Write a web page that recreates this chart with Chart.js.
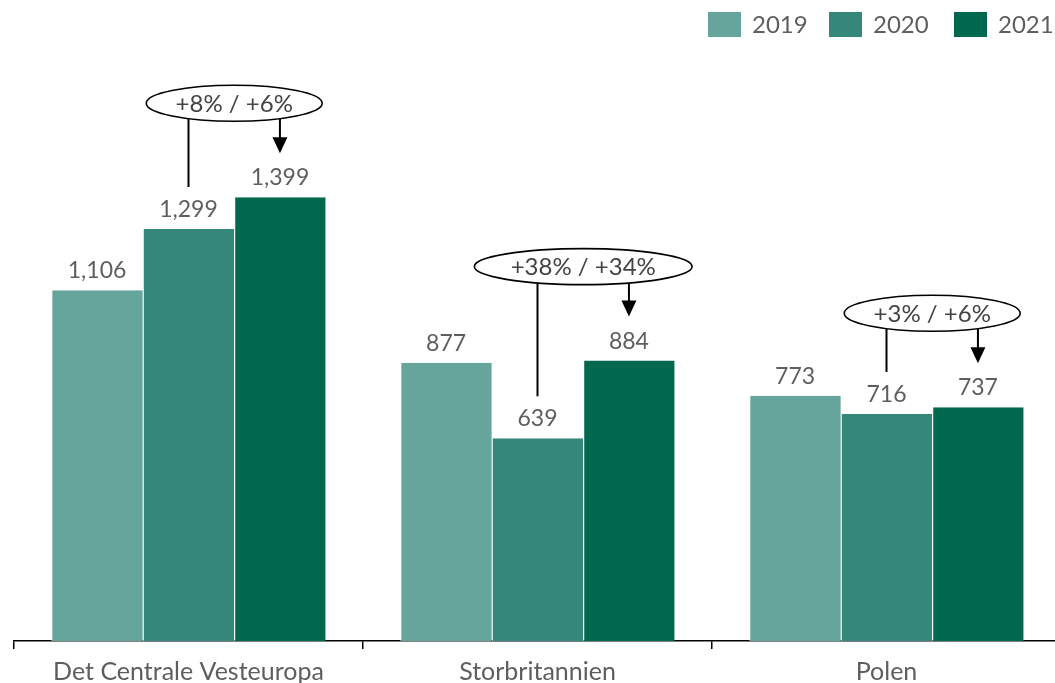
<!DOCTYPE html>
<html>
<head>
<meta charset="utf-8">
<script src="https://cdn.jsdelivr.net/npm/chart.js@4"></script>
<style>
  html, body { margin: 0; padding: 0; background: #fff; overflow: hidden; }
  #wrap { width: 1055px; height: 683px; overflow: hidden; }
  canvas { display: block; }
</style>
</head>
<body>
<div id="wrap"><canvas id="c" width="1061" height="683"></canvas></div>
<script>
const categories = ['Det Centrale Vesteuropa', 'Storbritannien', 'Polen'];
const years = ['2019', '2020', '2021'];
const values2019 = [1106, 877, 773];
const values2020 = [1299, 639, 716];
const values2021 = [1399, 884, 737];
const changeLabels = ['+8% / +6%', '+38% / +34%', '+3% / +6%'];
const colors = ['#66a59b', '#35877a', '#00684f'];

const FONT = 'Lato, "Open Sans", sans-serif';
const TEXT = '#5e5e5e';

function fmt(v) { return v.toLocaleString('en-US'); }

const overlay = {
  id: 'overlay',
  afterDatasetsDraw(chart) {
    const ctx = chart.ctx;
    const y = chart.scales.y;
    ctx.save();
    // data labels
    ctx.font = '23px ' + FONT;
    ctx.fillStyle = TEXT;
    ctx.textAlign = 'center';
    ctx.textBaseline = 'bottom';
    chart.data.datasets.forEach((ds, di) => {
      const meta = chart.getDatasetMeta(di);
      meta.data.forEach((bar, i) => {
        ctx.fillText(fmt(ds.data[i]), bar.x, bar.y - 8);
      });
    });
    // annotations
    const m20 = chart.getDatasetMeta(1).data;
    const m21 = chart.getDatasetMeta(2).data;
    categories.forEach((c, i) => {
      const x1 = m20[i].x, x2 = m21[i].x;
      const top20 = y.getPixelForValue(values2020[i]);
      const top21 = y.getPixelForValue(values2021[i]);
      const cx = (x1 + x2) / 2;
      const cy = top21 - 94;
      ctx.font = '24px ' + FONT;
      const tw = ctx.measureText(changeLabels[i]).width;
      const rx = tw * 0.75;
      const ry = 18;
      ctx.strokeStyle = '#000';
      ctx.fillStyle = '#000';
      ctx.lineWidth = 2;
      // left line
      ctx.beginPath();
      ctx.moveTo(x1, cy);
      ctx.lineTo(x1, top20 - 42);
      ctx.stroke();
      // arrow
      const tip = top21 - 44;
      ctx.beginPath();
      ctx.moveTo(x2, cy);
      ctx.lineTo(x2, tip - 14);
      ctx.stroke();
      ctx.beginPath();
      ctx.moveTo(x2 - 7.5, tip - 16);
      ctx.lineTo(x2 + 7.5, tip - 16);
      ctx.lineTo(x2, tip);
      ctx.closePath();
      ctx.fill();
      // ellipse
      ctx.beginPath();
      ctx.ellipse(cx, cy, rx, ry, 0, 0, Math.PI * 2);
      ctx.fillStyle = '#fff';
      ctx.fill();
      ctx.lineWidth = 1.6;
      ctx.stroke();
      ctx.fillStyle = '#444';
      ctx.textAlign = 'center';
      ctx.textBaseline = 'middle';
      ctx.fillText(changeLabels[i], cx, cy + 1);
    });
    // legend
    const legendX = [708, 829, 954];
    ctx.font = '24px ' + FONT;
    ctx.textAlign = 'left';
    ctx.textBaseline = 'middle';
    years.forEach((yr, i) => {
      ctx.fillStyle = colors[i];
      ctx.fillRect(legendX[i], 12, 33, 25);
      ctx.fillStyle = TEXT;
      ctx.fillText(yr, legendX[i] + 44, 25);
    });
    ctx.restore();
  }
};

new Chart(document.getElementById('c'), {
  type: 'bar',
  data: {
    labels: categories,
    datasets: [
      { label: years[0], data: values2019, backgroundColor: colors[0] },
      { label: years[1], data: values2020, backgroundColor: colors[1] },
      { label: years[2], data: values2021, backgroundColor: colors[2] }
    ]
  },
  options: {
    responsive: false,
    devicePixelRatio: 1,
    animation: false,
    layout: { padding: { left: 14, right: 0, top: 0, bottom: -12 } },
    datasets: {
      bar: {
        categoryPercentage: 0.786,
        barPercentage: 1,
        borderColor: '#fff',
        borderWidth: { left: 1, right: 0, top: 0, bottom: 0 },
        borderSkipped: false
      }
    },
    plugins: { legend: { display: false }, tooltip: { enabled: false } },
    scales: {
      x: {
        grid: { offset: true, drawOnChartArea: false, drawTicks: true, tickLength: 8, color: '#000', lineWidth: 1.5 },
        border: { display: true, color: '#000', width: 1.5 },
        ticks: { color: TEXT, font: { family: FONT, size: 25 }, padding: 8, maxRotation: 0 }
      },
      y: { display: false, min: 0, max: 2021 }
    }
  },
  plugins: [overlay]
});
</script>
</body>
</html>
